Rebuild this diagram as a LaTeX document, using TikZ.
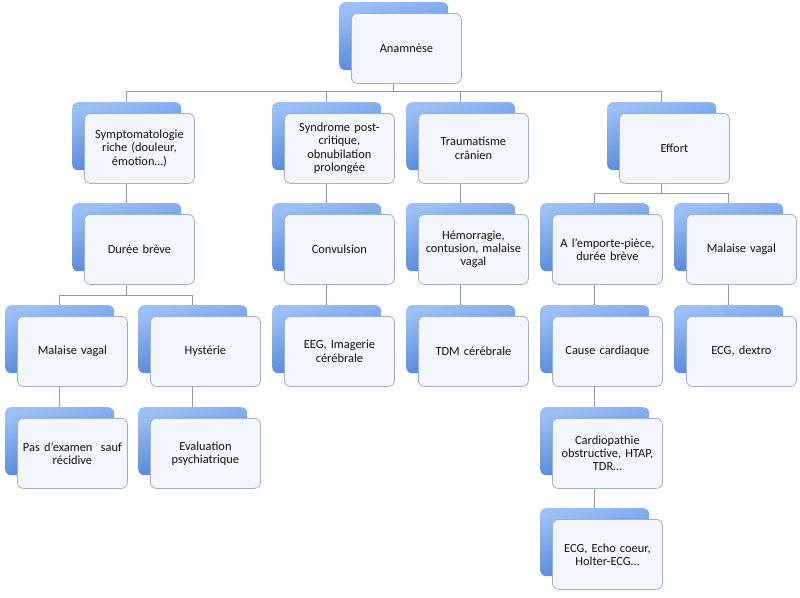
\documentclass[tikz,border=0pt]{standalone}
\usepackage{fontspec}
\setmainfont{Carlito}
\pgfdeclarelayer{bg}
\pgfsetlayers{bg,main}
\definecolor{connc}{RGB}{135,155,190}
\definecolor{btop}{RGB}{155,192,246}
\definecolor{bbot}{RGB}{70,125,212}
\definecolor{ffill}{RGB}{243,246,252}
\definecolor{fdraw}{RGB}{160,176,204}
\definecolor{txtc}{RGB}{20,20,20}
\tikzset{
  backbox/.style={rectangle, rounded corners=6pt, minimum width=109pt, minimum height=68pt,
    inner sep=0pt, top color=btop, bottom color=bbot, shading angle=15, anchor=north west},
  frontbox/.style={rectangle, rounded corners=6pt, minimum width=110pt, minimum height=70pt,
    text width=104pt, inner xsep=3pt, inner ysep=2pt, align=center, fill=ffill, draw=fdraw,
    line width=0.8pt, font=\fontsize{12.4}{13.3}\selectfont, text=txtc, anchor=north west},
  conn/.style={draw=connc, line width=0.8pt}
}
\newcommand\mkunit[4]{%
  \node[backbox] (#1) at (#2,#3) {};
  \node[frontbox] (#1w) at (#2+12,#3+11) {#4};
}
\begin{document}
\begin{tikzpicture}[x=1pt,y=-1pt]
\useasboundingbox (0,0) rectangle (800,597);
\coordinate (b1) at (0,91);
\coordinate (b2) at (0,193);
\coordinate (b3) at (0,295);

\mkunit{ana}{339}{2}{Anamnèse}
\mkunit{sym}{72}{102}{Symptomatologie\\riche (douleur,\\émotion…)}
\mkunit{syn}{272}{102}{Syndrome post-\\critique,\\obnubilation\\prolongée}
\mkunit{tra}{406}{102}{Traumatisme\\crânien}
\mkunit{eff}{607}{102}{Effort}
\mkunit{dur}{72}{203}{Durée brève}
\mkunit{con}{272}{203}{Convulsion}
\mkunit{hem}{406}{203}{Hémorragie,\\contusion, malaise\\vagal}
\mkunit{emp}{540}{203}{A l'emporte-pièce,\\durée brève}
\mkunit{mvb}{674}{203}{Malaise vagal}
\mkunit{mva}{5}{305}{Malaise vagal}
\mkunit{hys}{138}{305}{Hystérie}
\mkunit{eeg}{272}{305}{EEG, Imagerie\\cérébrale}
\mkunit{tdm}{406}{305}{TDM cérébrale}
\mkunit{cau}{540}{305}{Cause cardiaque}
\mkunit{dex}{674}{305}{ECG, dextro}
\mkunit{pas}{5}{407}{Pas d’examen\ \ sauf\\récidive}
\mkunit{eva}{138}{407}{Evaluation\\psychiatrique}
\mkunit{car}{540}{407}{Cardiopathie\\obstructive, HTAP,\\TDR…}
\mkunit{ech}{540}{508}{ECG, Echo coeur,\\Holter-ECG…}

\begin{pgfonlayer}{bg}
\draw[conn] (ana.center) -- (ana.center |- b1) -| (sym.center);
\draw[conn] (ana.center) -- (ana.center |- b1) -| (syn.center);
\draw[conn] (ana.center) -- (ana.center |- b1) -| (tra.center);
\draw[conn] (ana.center) -- (ana.center |- b1) -| (eff.center);
\draw[conn] (sym.center) -- (dur.center);
\draw[conn] (dur.center) -- (dur.center |- b3) -| (mva.center);
\draw[conn] (dur.center) -- (dur.center |- b3) -| (hys.center);
\draw[conn] (mva.center) -- (pas.center);
\draw[conn] (hys.center) -- (eva.center);
\draw[conn] (syn.center) -- (con.center);
\draw[conn] (con.center) -- (eeg.center);
\draw[conn] (tra.center) -- (hem.center);
\draw[conn] (hem.center) -- (tdm.center);
\draw[conn] (eff.center) -- (eff.center |- b2) -| (emp.center);
\draw[conn] (eff.center) -- (eff.center |- b2) -| (mvb.center);
\draw[conn] (emp.center) -- (cau.center);
\draw[conn] (cau.center) -- (car.center);
\draw[conn] (car.center) -- (ech.center);
\draw[conn] (mvb.center) -- (dex.center);
\end{pgfonlayer}
\end{tikzpicture}
\end{document}
